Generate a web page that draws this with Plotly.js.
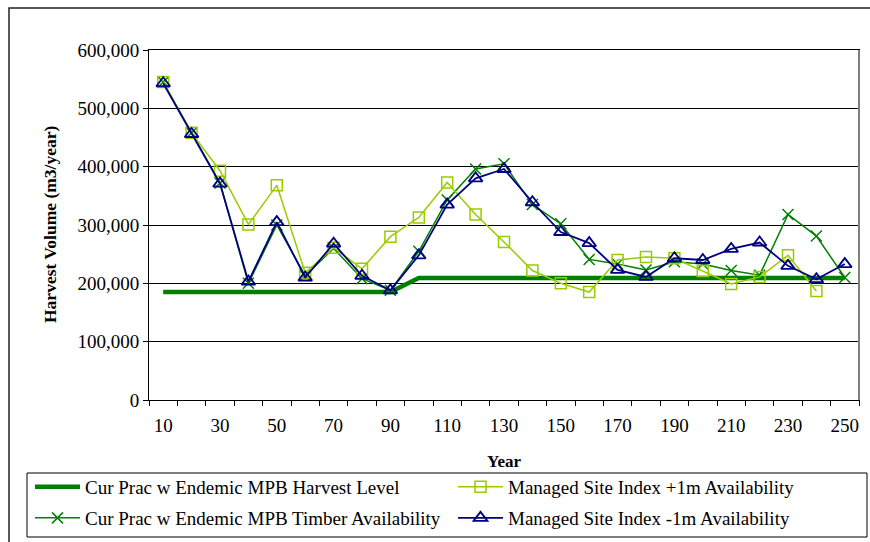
<!DOCTYPE html>
<html><head><meta charset="utf-8">
<script src="https://cdn.plot.ly/plotly-3.0.1.min.js"></script>
<style>html,body{margin:0;padding:0;background:#fff}#c{width:870px;height:542px}</style>
</head><body><div id="c"></div>
<script>
const years = [10,20,30,40,50,60,70,80,90,100,110,120,130,140,150,160,170,180,190,200,210,220,230,240,250];
const harvestLevel = [185000,185000,185000,185000,185000,185000,185000,185000,185000,209000,209000,209000,209000,209000,209000,209000,209000,209000,209000,209000,209000,209000,209000,209000,209000];
const timberAvail = [545000,458000,372000,200000,300000,213000,260000,208000,188000,255000,343000,396000,405000,335000,302000,241000,233000,223000,237000,233000,222000,214000,318000,281000,210000];
const siPlus1 = [545000,458000,393000,301000,368000,218000,261000,225000,280000,313000,373000,318000,271000,222000,200000,185000,240000,245000,243000,221000,199000,211000,248000,187000,null];
const siMinus1 = [543000,456000,371000,203000,305000,210000,268000,213000,188000,248000,335000,380000,396000,339000,288000,269000,223000,211000,243000,240000,259000,270000,230000,207000,233000];
const names = ["Cur Prac w Endemic MPB Harvest Level","Managed Site Index +1m Availability","Cur Prac w Endemic MPB Timber Availability","Managed Site Index -1m Availability"];
const yTicks = [0,100000,200000,300000,400000,500000,600000];
const xTicks = [10,30,50,70,90,110,130,150,170,190,210,230,250];
const xTitle = 'Year';
const yTitle = 'Harvest Volume (m3/year)';

const traces = [
  {x: years, y: harvestLevel, name: names[0], legend: 'legend', mode: 'lines',
   line: {color: '#008000', width: 4.5}},
  {x: years, y: timberAvail, name: names[2], legend: 'legend3', mode: 'lines+markers',
   line: {color: '#008000', width: 1.5},
   marker: {symbol: 'x-thin', size: 11, line: {color: '#008000', width: 1.5}}},
  {x: years, y: siPlus1, name: names[1], legend: 'legend2', mode: 'lines+markers',
   line: {color: '#99CC00', width: 1.5},
   marker: {symbol: 'square-open', size: 11, color: '#99CC00', line: {width: 1.5}}},
  {x: years, y: siMinus1, name: names[3], legend: 'legend4', mode: 'lines+markers',
   line: {color: '#000080', width: 1.8},
   marker: {symbol: 'triangle-up-open', size: 12, color: '#000080', line: {width: 1.8}}}
];

const font = {family: '"Liberation Serif", "Times New Roman", serif', color: '#000'};
function leg(xpx, ypx) {
  return {
    xref: 'container', yref: 'container',
    x: xpx / 870, xanchor: 'left', y: 1 - ypx / 542, yanchor: 'middle',
    bgcolor: 'rgba(0,0,0,0)', borderwidth: 0, itemwidth: 45,
    font: Object.assign({size: 19}, font)
  };
}
const layout = {
  width: 870, height: 542,
  margin: {l: 149, r: 11, t: 50, b: 142, autoexpand: false},
  paper_bgcolor: '#fff', plot_bgcolor: '#fff',
  font: Object.assign({size: 19}, font),
  showlegend: true,
  xaxis: {
    range: [5, 255], tickvals: xTicks, ticktext: xTicks.map(String),
    ticks: '', showgrid: false, zeroline: false,
    showline: true, linecolor: '#000', linewidth: 1, mirror: true,
    minor: {tick0: 5, dtick: 10, ticks: 'outside', ticklen: 5, tickcolor: '#000', showgrid: false},
    ticklabelstandoff: 8,
    tickfont: Object.assign({size: 19}, font),
    title: {text: '<b>' + xTitle + '</b>', font: Object.assign({size: 17}, font), standoff: 20}
  },
  yaxis: {
    range: [0, 600000], tickvals: yTicks, tickformat: ',',
    ticks: 'outside', ticklen: 5, tickcolor: '#000',
    showgrid: true, gridcolor: '#000', gridwidth: 1, zeroline: false,
    showline: true, linecolor: '#000', linewidth: 1, mirror: true,
    tickfont: Object.assign({size: 19}, font)
  },
  annotations: [
    {text: '<b>' + yTitle + '</b>', xref: 'paper', yref: 'paper',
     x: (50 - 149) / 710, y: 0.5, xanchor: 'center', yanchor: 'middle',
     textangle: -90, showarrow: false, font: Object.assign({size: 17.5}, font)}
  ],
  legend: leg(30, 487),
  legend2: leg(453, 487),
  legend3: leg(30, 518),
  legend4: leg(453, 518),
  shapes: [
    {type: 'line', xref: 'paper', yref: 'paper', x0: 1, x1: 1, y0: 0, y1: 1,
     line: {color: '#808080', width: 2}},
    {type: 'rect', xref: 'paper', yref: 'paper',
     x0: (9 - 149) / 710, x1: (875 - 149) / 710, y0: (400 - 560) / 350, y1: (400 - 8) / 350,
     line: {color: '#222', width: 1.5}, fillcolor: 'rgba(0,0,0,0)', layer: 'below'},
    {type: 'rect', xref: 'paper', yref: 'paper',
     x0: (27 - 149) / 710, x1: (867 - 149) / 710, y0: (400 - 537) / 350, y1: (400 - 473) / 350,
     line: {color: '#000', width: 1}, fillcolor: 'rgba(0,0,0,0)', layer: 'below'}
  ]
};
Plotly.newPlot('c', traces, layout, {displayModeBar: false, staticPlot: true});
</script>
</body></html>
